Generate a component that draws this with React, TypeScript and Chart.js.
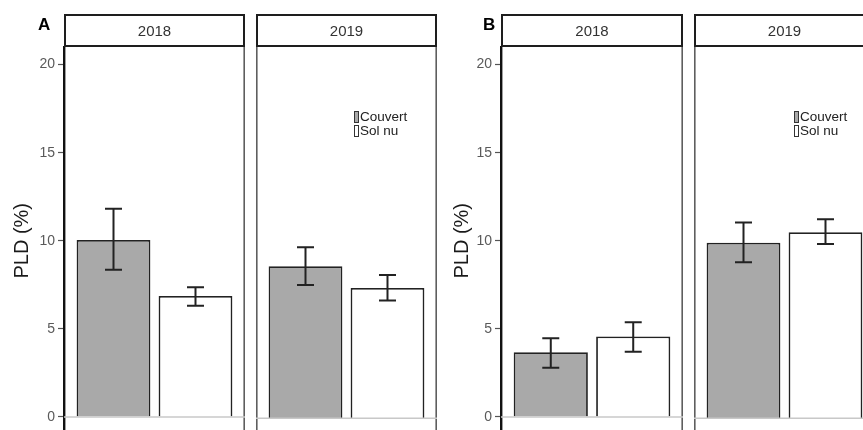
import React, { useEffect, useRef } from "react";
import { Chart, registerables } from "chart.js";

Chart.register(...registerables);

// ---------- data ----------
const panelLetters = ["A", "B"];
const years = ["2018", "2019"];
const seriesNames = ["Couvert", "Sol nu"];
const seriesFills = ["#a9a9a9", "#ffffff"];
const yTicks = [0, 5, 10, 15, 20];
const yTitle = "PLD (%)";

// [Couvert, Sol nu]
const meanA2018 = [10.05, 6.87];
const lowA2018 = [8.35, 6.31];
const highA2018 = [11.82, 7.37];

const meanA2019 = [8.6, 7.37];
const lowA2019 = [7.54, 6.67];
const highA2019 = [9.67, 8.1];

const meanB2018 = [3.67, 4.57];
const lowB2018 = [2.8, 3.7];
const highB2018 = [4.47, 5.37];

const meanB2019 = [9.93, 10.52];
const lowB2019 = [8.82, 9.86];
const highB2019 = [11.07, 11.26];

const FONT = "'Liberation Sans', Arial, Helvetica, sans-serif";

// ---------- plugin: panel frame, zero line, error bars, strip, legend ----------
const facetPlugin: any = {
  id: "facet",
  beforeDraw(chart: any) {
    const { ctx, chartArea: ca } = chart;
    ctx.save();
    ctx.strokeStyle = "#5e5e5e";
    ctx.lineWidth = 1.6;
    ctx.beginPath();
    ctx.moveTo(ca.left + 0.8, ca.top);
    ctx.lineTo(ca.left + 0.8, chart.height);
    ctx.moveTo(ca.right - 0.8, ca.top);
    ctx.lineTo(ca.right - 0.8, chart.height);
    ctx.stroke();
    ctx.restore();
  },
  afterDatasetsDraw(chart: any, _a: any, opts: any) {
    const { ctx, chartArea: ca, scales } = chart;
    const y = scales.y;
    ctx.save();
    // zero reference line
    const y0 = y.getPixelForValue(0);
    ctx.strokeStyle = "#c8c8c8";
    ctx.lineWidth = 1.5;
    ctx.beginPath();
    ctx.moveTo(ca.left, y0);
    ctx.lineTo(ca.right, y0);
    ctx.stroke();
    // error bars
    const cap = opts.capWidth || 17;
    ctx.strokeStyle = "#222222";
    ctx.lineWidth = 2;
    chart.data.datasets.forEach((ds: any, i: number) => {
      const meta = chart.getDatasetMeta(i);
      meta.data.forEach((el: any, j: number) => {
        const x = el.x;
        const yl = y.getPixelForValue(ds.errLow[j]);
        const yh = y.getPixelForValue(ds.errHigh[j]);
        ctx.beginPath();
        ctx.moveTo(x, yl);
        ctx.lineTo(x, yh);
        ctx.moveTo(x - cap / 2, yl);
        ctx.lineTo(x + cap / 2, yl);
        ctx.moveTo(x - cap / 2, yh);
        ctx.lineTo(x + cap / 2, yh);
        ctx.stroke();
      });
    });
    ctx.restore();
  },
  afterDraw(chart: any, _a: any, opts: any) {
    const { ctx, chartArea: ca } = chart;
    ctx.save();
    // strip
    const sh = 33;
    const top = ca.top - sh;
    const w = ca.right - ca.left;
    ctx.fillStyle = "#ffffff";
    ctx.fillRect(ca.left, top, w, sh);
    ctx.strokeStyle = "#1e1e1e";
    ctx.lineWidth = 2;
    ctx.strokeRect(ca.left + 1, top + 1, w - 2, sh - 2);
    ctx.fillStyle = "#333333";
    ctx.font = `15px ${FONT}`;
    ctx.textAlign = "center";
    ctx.textBaseline = "middle";
    ctx.fillText(opts.strip, (ca.left + ca.right) / 2, top + sh / 2 + 1);
    // legend
    if (opts.legendX != null) {
      chart.data.datasets.forEach((ds: any, i: number) => {
        const kx = ca.left + opts.legendX;
        const ky = ca.top + 64 + i * 14;
        ctx.fillStyle = ds.backgroundColor;
        ctx.fillRect(kx, ky, 5, 12);
        ctx.strokeStyle = "#333333";
        ctx.lineWidth = 1;
        ctx.strokeRect(kx + 0.5, ky + 0.5, 4, 11);
        ctx.fillStyle = "#222222";
        ctx.font = `13.5px ${FONT}`;
        ctx.textAlign = "left";
        ctx.textBaseline = "middle";
        ctx.fillText(ds.label, kx + 6, ky + 6.5);
      });
    }
    ctx.restore();
  },
};

type FacetProps = {
  year: string;
  means: number[];
  lows: number[];
  highs: number[];
  withAxis: boolean;
  left: number;
  width: number;
  axisWidth: number;
  legendX: number | null;
};

const CANVAS_H = 446;

function Facet(p: FacetProps) {
  const ref = useRef<HTMLCanvasElement>(null);
  useEffect(() => {
    if (!ref.current) return;
    const chart = new Chart(ref.current, {
      type: "bar",
      data: {
        labels: [p.year],
        datasets: seriesNames.map((name, k) => ({
          label: name,
          data: [p.means[k]],
          errLow: [p.lows[k]],
          errHigh: [p.highs[k]],
          backgroundColor: seriesFills[k],
          borderColor: "#222222",
          borderWidth: 1.8,
          borderSkipped: "start",
          categoryPercentage: 0.906,
          barPercentage: 0.9,
        })) as any,
      },
      options: {
        responsive: false,
        animation: false,
        devicePixelRatio: 1,
        layout: {
          padding: { top: 47, bottom: 10, left: p.withAxis ? 0 : 1, right: 1 },
        },
        plugins: {
          legend: { display: false },
          tooltip: { enabled: false },
          facet: { strip: p.year, legendX: p.legendX, capWidth: 17 },
        } as any,
        scales: {
          x: { display: false, offset: true },
          y: {
            display: p.withAxis,
            min: -1,
            max: 21,
            afterBuildTicks: (s: any) => {
              s.ticks = yTicks.map((v) => ({ value: v }));
            },
            afterFit: (s: any) => {
              s.width = p.axisWidth;
            },
            ticks: {
              color: "#5a5a5a",
              font: { size: 14, family: FONT },
              padding: 3,
            },
            grid: {
              drawOnChartArea: false,
              drawTicks: true,
              tickLength: 6,
              tickWidth: 1.2,
              tickColor: "#555555",
              color: "#555555",
            },
            border: { display: true, color: "#111111", width: 2 },
            title: {
              display: true,
              text: yTitle,
              color: "#1a1a1a",
              font: { size: 20, family: FONT },
              padding: { top: 10, bottom: 0 },
            },
          },
        },
      },
      plugins: [facetPlugin],
    } as any);
    return () => chart.destroy();
  }, []);
  return (
    <div style={{ position: "absolute", left: p.left, top: 0, width: p.width, height: CANVAS_H }}>
      <canvas ref={ref} width={p.width} height={CANVAS_H} style={{ display: "block" }} />
    </div>
  );
}

export default function App() {
  const labelStyle: React.CSSProperties = {
    position: "absolute",
    top: 16,
    fontFamily: FONT,
    fontWeight: "bold",
    fontSize: 17,
    lineHeight: "17px",
    color: "#000",
  };
  return (
    <div
      style={{
        position: "absolute",
        left: 0,
        top: 0,
        width: 863,
        height: 430,
        overflow: "hidden",
        background: "#ffffff",
      }}
    >
      <Facet year={years[0]} means={meanA2018} lows={lowA2018} highs={highA2018}
        withAxis={true} left={0} width={246} axisWidth={64} legendX={null} />
      <Facet year={years[1]} means={meanA2019} lows={lowA2019} highs={highA2019}
        withAxis={false} left={255} width={183} axisWidth={0} legendX={98} />
      <Facet year={years[0]} means={meanB2018} lows={lowB2018} highs={highB2018}
        withAxis={true} left={440} width={244} axisWidth={61} legendX={null} />
      <Facet year={years[1]} means={meanB2019} lows={lowB2019} highs={highB2019}
        withAxis={false} left={693} width={183} axisWidth={0} legendX={100} />
      <div style={{ ...labelStyle, left: 38 }}>{panelLetters[0]}</div>
      <div style={{ ...labelStyle, left: 483 }}>{panelLetters[1]}</div>
    </div>
  );
}
